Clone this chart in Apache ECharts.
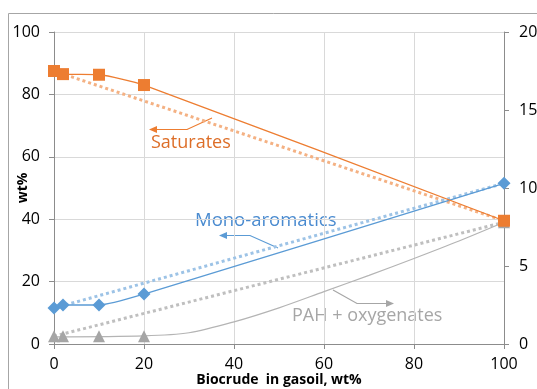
<!DOCTYPE html>
<html><head><meta charset="utf-8">
<script src="https://cdn.jsdelivr.net/npm/echarts@6/dist/echarts.min.js"></script>
<style>html,body{margin:0;padding:0;background:#fff;}#c{width:537px;height:389px;}</style>
</head><body><div id="c"></div>
<script>
// Data
const xBlend = [0, 2, 10, 20, 100];
const saturates = [87.5, 86.5, 86.3, 83, 39.5];
const monoAromatics = [11.5, 12.5, 12.5, 16, 51.5];
const pahOxygenates = [2.5, 2.5, 2.5, 2.5, 39];
// dotted linear-mixing lines (endpoints)
const satMixX = [0, 100], satMix = [87.5, 39.5];
const monoMixX = [0, 100], monoMix = [11.5, 51.5];
const pahMixX = [0, 100], pahMix = [2.5, 39];
// solid PAH curve
const pahCurveX = [0, 20, 30, 40, 50, 60, 70, 80, 90, 100];
const pahCurve = [2.3, 2.6, 3.6, 7.1, 11.6, 16.8, 22, 27.4, 33, 39];
const leftTicks = [0, 20, 40, 60, 80, 100];
const rightTicks = [0, 5, 10, 15, 20];

const zip = (xs, ys) => xs.map((x, i) => [x, ys[i]]);
const FONT = 'Open Sans';
const ORANGE = '#ED7D31', BLUE = '#5B9BD5', GRAY = '#A5A5A5';

const chart = echarts.init(document.getElementById('c'), null, {renderer: 'canvas'});
const axisGray = '#8C8C8C';
chart.setOption({
  animation: false,
  backgroundColor: '#fff',
  grid: {left: 54, right: 33, top: 32, bottom: 45, containLabel: false, outerBoundsMode: 'none'},
  xAxis: {
    type: 'value', min: 0, max: 100, interval: 20,
    name: 'Biocrude  in gasoil, wt%', nameLocation: 'middle', nameGap: 29, nameMoveOverlap: false,
    nameTextStyle: {fontFamily: FONT, fontWeight: 'bold', fontSize: 14, color: '#000'},
    axisLine: {show: true, onZero: false, lineStyle: {color: axisGray, width: 1}},
    axisTick: {show: true, length: 5, lineStyle: {color: axisGray}},
    axisLabel: {fontFamily: FONT, fontSize: 16, color: '#000', margin: 12},
    splitLine: {show: true, lineStyle: {color: '#D9D9D9', width: 1}}
  },
  yAxis: [{
    type: 'value', min: 0, max: 100, interval: 20, position: 'left',
    name: 'wt%', nameLocation: 'middle', nameGap: 24, nameRotate: 90, nameMoveOverlap: false,
    nameTextStyle: {fontFamily: FONT, fontWeight: 'bold', fontSize: 14, color: '#000'},
    axisLine: {show: true, lineStyle: {color: axisGray, width: 1}},
    axisTick: {show: true, length: 5, lineStyle: {color: axisGray}},
    axisLabel: {fontFamily: FONT, fontSize: 16, color: '#000', margin: 14,
      formatter: v => leftTicks.includes(v) ? String(v) : ''},
    splitLine: {show: true, lineStyle: {color: '#D9D9D9', width: 1}}
  }, {
    type: 'value', min: 0, max: 20, interval: 5, position: 'right',
    axisLine: {show: true, lineStyle: {color: axisGray, width: 1}},
    axisTick: {show: true, length: 5, lineStyle: {color: axisGray}},
    axisLabel: {fontFamily: FONT, fontSize: 16, color: '#000', margin: 15, align: 'left',
      formatter: v => rightTicks.includes(v) ? String(v) : ''},
    splitLine: {show: false}
  }],
  series: [
    {type: 'line', data: zip(satMixX, satMix), symbol: 'none', z: 2,
     lineStyle: {color: '#F4B183', width: 3, type: [3, 3]}},
    {type: 'line', data: zip(monoMixX, monoMix), symbol: 'none', z: 2,
     lineStyle: {color: '#9DC3E6', width: 3, type: [3, 3]}},
    {type: 'line', data: zip(pahMixX, pahMix), symbol: 'none', z: 2,
     lineStyle: {color: '#BFBFBF', width: 3, type: [3, 3]}},
    {type: 'line', data: zip(pahCurveX, pahCurve), symbol: 'none', smooth: 0.3, z: 3,
     lineStyle: {color: '#B4B4B4', width: 1.2}},
    {type: 'line', data: zip(xBlend, pahOxygenates), symbol: 'triangle', symbolSize: 12, showSymbol: true, z: 4,
     itemStyle: {color: GRAY}, lineStyle: {width: 0, opacity: 0}},
    {type: 'line', data: zip(xBlend, monoAromatics), symbol: 'diamond', symbolSize: 13, smooth: 0.2, z: 4,
     itemStyle: {color: BLUE}, lineStyle: {color: BLUE, width: 1.3}},
    {type: 'line', data: zip(xBlend, saturates), symbol: 'rect', symbolSize: 12, smooth: 0.2, z: 4,
     itemStyle: {color: ORANGE}, lineStyle: {color: ORANGE, width: 1.3}}
  ],
  graphic: [
    {type: 'rect', shape: {x: 8.5, y: 13.5, width: 600, height: 400}, silent: true, z: -1,
     style: {fill: 'none', stroke: '#A6A6A6', lineWidth: 1}},
    // Saturates annotation
    {type: 'polyline', shape: {points: [[212, 118], [187, 129.5], [156, 129.5]]}, style: {stroke: ORANGE, lineWidth: 1.2, fill: 'none'}},
    {type: 'polygon', shape: {points: [[149, 129.5], [157, 126], [157, 133]]}, style: {fill: ORANGE}},
    {type: 'text', style: {text: 'Saturates', x: 151, y: 143, fontFamily: FONT, fontSize: 18, fill: '#DD6E28', verticalAlign: 'middle'}},
    // Mono-aromatics annotation
    {type: 'polyline', shape: {points: [[278, 248], [250, 235.5], [226, 235.5]]}, style: {stroke: BLUE, lineWidth: 1.2, fill: 'none'}},
    {type: 'polygon', shape: {points: [[219, 235.5], [227, 232], [227, 239]]}, style: {fill: BLUE}},
    {type: 'text', style: {text: 'Mono-aromatics', x: 195, y: 221, fontFamily: FONT, fontSize: 18.5, fill: '#4A8BD0', verticalAlign: 'middle'}},
    // PAH annotation
    {type: 'polyline', shape: {points: [[333, 290], [357, 303.5], [387, 303.5]]}, style: {stroke: '#A6A6A6', lineWidth: 1.2, fill: 'none'}},
    {type: 'polygon', shape: {points: [[394, 303.5], [386, 300], [386, 307]]}, style: {fill: '#A6A6A6'}},
    {type: 'text', style: {text: 'PAH + oxygenates', x: 292, y: 316, fontFamily: FONT, fontSize: 18, fill: '#A6A6A6', verticalAlign: 'middle'}}
  ]
});
</script></body></html>
